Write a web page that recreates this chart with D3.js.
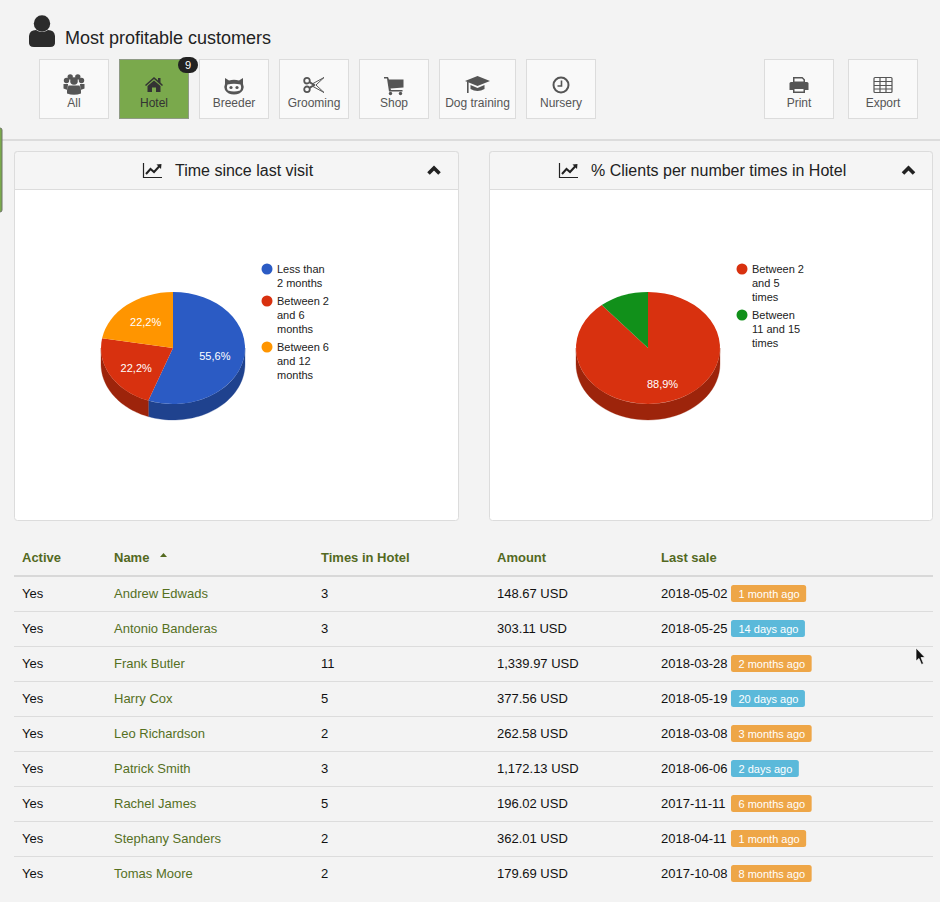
<!DOCTYPE html>
<html>
<head>
<meta charset="utf-8">
<script src="https://cdnjs.cloudflare.com/ajax/libs/d3/7.8.5/d3.min.js"></script>
<style>
html, body { margin: 0; padding: 0; background: #f3f3f3; overflow: hidden; }
svg { display: block; }
text { font-family: "Liberation Sans", Arial, sans-serif; }
</style>
</head>
<body>
<svg id="page" width="940" height="902"></svg>
<script>
//data
var visit_labels = [["Less than", "2 months"], ["Between 2", "and 6", "months"], ["Between 6", "and 12", "months"]];
var visit_values = [5, 2, 2];
var visit_colors = ["#2b5bc4", "#d8310f", "#ff9500"];
var visit_texts = ["55,6%", "22,2%", "22,2%"];

var times_labels = [["Between 2", "and 5", "times"], ["Between", "11 and 15", "times"]];
var times_values = [8, 1];
var times_colors = ["#d8310f", "#11901a"];
var times_texts = ["88,9%", ""];

var columns = ["Active", "Name", "Times in Hotel", "Amount", "Last sale"];
var names = ["Andrew Edwads", "Antonio Banderas", "Frank Butler", "Harry Cox", "Leo Richardson", "Patrick Smith", "Rachel James", "Stephany Sanders", "Tomas Moore"];
var active = ["Yes", "Yes", "Yes", "Yes", "Yes", "Yes", "Yes", "Yes", "Yes"];
var times = [3, 3, 11, 5, 2, 3, 5, 2, 2];
var amounts = ["148.67 USD", "303.11 USD", "1,339.97 USD", "377.56 USD", "262.58 USD", "1,172.13 USD", "196.02 USD", "362.01 USD", "179.69 USD"];
var dates = ["2018-05-02", "2018-05-25", "2018-03-28", "2018-05-19", "2018-03-08", "2018-06-06", "2017-11-11", "2018-04-11", "2017-10-08"];
var ago = ["1 month ago", "14 days ago", "2 months ago", "20 days ago", "3 months ago", "2 days ago", "6 months ago", "1 month ago", "8 months ago"];

var buttons = ["All", "Hotel", "Breeder", "Grooming", "Shop", "Dog training", "Nursery", "Print", "Export"];
var button_x = [39, 119, 199, 279, 359, 439, 526, 764, 848];
var button_w = [70, 70, 70, 70, 70, 77, 70, 70, 70];
var iconDrawers = [iconAll, iconHome, iconCat, iconScissors, iconCart, iconCap, iconClock, iconPrint, iconTable];

//configurations
var pie_rx = 72;
var pie_ry = 56;
var pie_depth = 16;

var svg = d3.select("#page");

// header
drawPerson(svg.append("g").attr("transform", "translate(42,31)"));
svg.append("text").attr("x", 65).attr("y", 44).attr("font-size", 18).attr("fill", "#222").text("Most profitable customers");

buttons.forEach(function (b, i) {
    var selected = b == "Hotel";
    var x = button_x[i];
    var w = button_w[i];
    svg.append("rect").attr("x", x + 0.5).attr("y", 59.5).attr("width", w - 1).attr("height", 59)
        .attr("fill", selected ? "#7aa94c" : "#f9f9f9").attr("stroke", selected ? "#8f9a85" : "#dcdcdc");
    svg.append("text").attr("x", x + w / 2).attr("y", 107).attr("text-anchor", "middle")
        .attr("font-size", 12).attr("fill", selected ? "#333" : "#555").text(b);
    var icon = svg.append("g").attr("transform", `translate(${x + w / 2},85)`)
        .attr("fill", selected ? "#333" : "#555").attr("stroke", "none");
    iconDrawers[i](icon, selected ? "#333" : "#555");
});

// badge on hotel
svg.append("rect").attr("x", 178).attr("y", 57).attr("width", 20).attr("height", 16).attr("rx", 8).attr("fill", "#222");
svg.append("text").attr("x", 188).attr("y", 69).attr("text-anchor", "middle").attr("font-size", 11).attr("fill", "#fff").text("9");

// separator + sliver on the left edge
svg.append("rect").attr("x", 0).attr("y", 139).attr("width", 940).attr("height", 2).attr("fill", "#dcdcdc");
svg.append("rect").attr("x", -3).attr("y", 128).attr("width", 5).attr("height", 84).attr("rx", 2).attr("fill", "#7aa94c").attr("stroke", "#6f7568");

// panels
drawPanel(14.5, 445, "Time since last visit", 143, 175, 434);
drawPanel(489.5, 444, "% Clients per number times in Hotel", 559, 591, 908.5);

drawPie(173, 348, visit_values, visit_colors, visit_texts);
drawLegend(267, visit_labels, visit_colors);
drawPie(648, 348, times_values, times_colors, times_texts);
drawLegend(742, times_labels, times_colors);

// table
var colX = d3.scaleOrdinal().domain(columns).range([22, 114, 321, 497, 661]);
var rowY = d3.scaleLinear().domain([0, 1]).range([593, 628]);

columns.forEach(function (c) {
    svg.append("text").attr("x", colX(c)).attr("y", 562).attr("font-size", 13).attr("font-weight", "bold")
        .attr("fill", "#53691f").text(c);
});
svg.append("path").attr("d", "M160 557 L163.5 553 L167 557 Z").attr("fill", "#53691f");
svg.append("rect").attr("x", 14).attr("y", 575).attr("width", 919).attr("height", 2).attr("fill", "#d8d8d8");

var rows = svg.selectAll("g.row").data(d3.range(names.length)).enter().append("g").attr("class", "row");

rows.filter(i => i < names.length - 1).append("rect").attr("x", 14).attr("width", 919).attr("height", 1)
    .attr("y", i => rowY(i) + 18).attr("fill", "#dcdcdc");

function cell(col, fn, color) {
    rows.append("text").attr("x", colX(col)).attr("y", i => rowY(i) + 4.5).attr("font-size", 13)
        .attr("fill", color).text(fn);
}
cell("Active", i => active[i], "#111");
cell("Name", i => names[i], "#55701f");
cell("Times in Hotel", i => times[i], "#111");
cell("Amount", i => amounts[i], "#111");
cell("Last sale", i => dates[i], "#111");

rows.each(function (i) {
    var g = d3.select(this);
    var label = g.append("text").attr("x", 738.5).attr("y", rowY(i) + 5).attr("font-size", 11).attr("fill", "#fff").text(ago[i]);
    var w = label.node().getComputedTextLength() + 14;
    g.insert("rect", "text:last-child").attr("x", 731).attr("y", rowY(i) - 8).attr("width", w).attr("height", 17).attr("rx", 2.5)
        .attr("fill", ago[i].indexOf("days") >= 0 ? "#5bb9da" : "#eea647");
});

// mouse pointer
svg.append("path").attr("d", "M916 648 L916 661 L919 658.5 L921.5 664.5 L923.5 663.5 L921 657.5 L925 657.5 Z")
    .attr("fill", "#111").attr("stroke", "#fff").attr("stroke-width", 0.7);


function drawPanel(x, w, title, iconX, titleX, chevronX) {
    svg.append("rect").attr("x", x).attr("y", 151.5).attr("width", w - 1).attr("height", 369).attr("rx", 3)
        .attr("fill", "#fff").attr("stroke", "#dcdcdc");
    svg.append("path").attr("d", `M${x} 189.5 L${x} 154.5 Q${x} 151.5 ${x + 3} 151.5 L${x + w - 4} 151.5 Q${x + w - 1} 151.5 ${x + w - 1} 154.5 L${x + w - 1} 189.5 Z`)
        .attr("fill", "#f5f5f5").attr("stroke", "#dcdcdc");
    svg.append("text").attr("x", titleX).attr("y", 176).attr("font-size", 16).attr("fill", "#222").text(title);
    // line chart icon
    var ic = svg.append("g").attr("transform", `translate(${iconX},163)`).attr("fill", "none").attr("stroke", "#222");
    ic.append("path").attr("d", "M0.5 0 L0.5 14.5 L19 14.5").attr("stroke-width", 1.2);
    ic.append("path").attr("d", "M3 11 L7.5 6 L11 9 L17 2.5").attr("stroke-width", 2);
    ic.append("path").attr("d", "M13.5 1.5 L18.5 1 L18 6 Z").attr("fill", "#222").attr("stroke", "none");
    // collapse chevron
    svg.append("path").attr("d", `M${chevronX - 5.5} 173.5 L${chevronX} 168 L${chevronX + 5.5} 173.5`)
        .attr("fill", "none").attr("stroke", "#222").attr("stroke-width", 3.6);
}

function drawPie(cx, cy, values, colors, texts) {
    var arcs = d3.pie().sort(null)(values);
    var g = svg.append("g");
    var arc = d3.arc().innerRadius(0).outerRadius(pie_rx);
    var sy = pie_ry / pie_rx;
    var px = a => cx + pie_rx * Math.sin(a);
    var py = a => cy - pie_ry * Math.cos(a);

    // side wall, only the front half is visible
    arcs.forEach(function (d, i) {
        var a0 = Math.max(d.startAngle, Math.PI / 2);
        var a1 = Math.min(d.endAngle, Math.PI * 1.5);
        if (a1 <= a0) return;
        var steps = d3.range(0, 41).map(k => a0 + (a1 - a0) * k / 40);
        var top = steps.map(a => [px(a), py(a)]);
        var bottom = steps.slice().reverse().map(a => [px(a), py(a) + pie_depth]);
        g.append("path").attr("d", d3.line()(top.concat(bottom)) + "Z")
            .attr("fill", d3.color(colors[i]).darker(0.9)).attr("stroke", d3.color(colors[i]).darker(0.9)).attr("stroke-width", 0.3);
    });

    // top face
    g.selectAll("path.slice").data(arcs).enter().append("path").attr("class", "slice")
        .attr("transform", `translate(${cx},${cy}) scale(1,${sy})`)
        .attr("d", arc).attr("fill", (d, i) => colors[i]);

    arcs.forEach(function (d, i) {
        if (!texts[i]) return;
        var mid = (d.startAngle + d.endAngle) / 2;
        g.append("text").attr("x", cx + 0.59 * pie_rx * Math.sin(mid)).attr("y", cy - 0.65 * pie_ry * Math.cos(mid) + 5.5)
            .attr("text-anchor", "middle").attr("font-size", 11).attr("fill", "#fff").text(texts[i]);
    });
}

function drawLegend(x, labels, colors) {
    var y = 269;
    labels.forEach(function (lines, i) {
        svg.append("circle").attr("cx", x).attr("cy", y).attr("r", 5.5).attr("fill", colors[i]);
        lines.forEach(function (l, k) {
            svg.append("text").attr("x", x + 10).attr("y", y + k * 14 + 4).attr("font-size", 11).attr("fill", "#222").text(l);
        });
        y += lines.length * 14 + 4;
    });
}

// icons, drawn around the button centre
function drawPerson(g) {
    g.attr("fill", "#2b2b2b");
    g.append("circle").attr("cy", -7.5).attr("r", 8.2);
    g.append("path").attr("d", "M-13 11 Q-13.5 16 -8 16 L8 16 Q13.5 16 13 11 L13 5 Q12.5 -1 6 -1 Q0 3 -6 -1 Q-12.5 -1 -13 5 Z");
}
function iconAll(g) {
    [[-7.5, -4.5], [7.5, -4.5], [-3.8, -8], [3.8, -8]].forEach(p => g.append("circle").attr("cx", p[0]).attr("cy", p[1]).attr("r", 2.7));
    g.append("circle").attr("cy", -4).attr("r", 3.8);
    g.append("path").attr("d", "M-10.5 -1 L-6 -1 L-6.5 5 L-10.5 3.5 Z M10.5 -1 L6 -1 L6.5 5 L10.5 3.5 Z");
    g.append("path").attr("d", "M-5.5 0.5 L5.5 0.5 Q7.5 5 7 8.5 Q0 11 -7 8.5 Q-7.5 5 -5.5 0.5 Z");
}
function iconHome(g) {
    g.append("path").attr("d", "M-9 0 L0 -8 L4 -4.5 L4 -7 L6.5 -7 L6.5 -2.5 L9 0 L8 1 L0 -6 L-8 1 Z");
    g.append("path").attr("d", "M-6.5 1 L0 -4.5 L6.5 1 L6.5 7 L2 7 L2 2.5 L-2 2.5 L-2 7 L-6.5 7 Z");
}
function iconCat(g) {
    g.append("path").attr("d", "M-9 -7 L-5 -4.5 Q0 -6 5 -4.5 L9 -7 L9 -1 Q10.5 2 9 5 Q6 9.5 0 9.5 Q-6 9.5 -9 5 Q-10.5 2 -9 -1 Z");
    g.append("path").attr("d", "M-6.5 -0.5 Q0 -2 6.5 -0.5 Q8 3 6 5.5 Q0 7.5 -6 5.5 Q-8 3 -6.5 -0.5 Z").attr("fill", "#f9f9f9");
    g.append("circle").attr("cx", -3).attr("cy", 2.5).attr("r", 1.6);
    g.append("circle").attr("cx", 3).attr("cy", 2.5).attr("r", 1.6);
}
function iconScissors(g, c) {
    g.attr("fill", "none").attr("stroke", c).attr("stroke-width", 1.8);
    g.append("circle").attr("cx", -7).attr("cy", -4.3).attr("r", 2.8);
    g.append("circle").attr("cx", -7).attr("cy", 4.3).attr("r", 2.8);
    g.append("path").attr("d", "M-4.5 -2.8 L1 0.5 M-4.5 2.8 L1 -0.5").attr("stroke-width", 2);
    g.append("path").attr("d", "M-1 -1.5 L10 -7.5 M2 0 L10 -7.5 M-1 1.5 L10 7.5 M2 0 L10 7.5").attr("stroke-width", 1);
}
function iconCart(g) {
    g.append("path").attr("d", "M-10 -8 L-6 -8 L-5 -5.5 L9.5 -5.5 L9.5 2.5 L-3.5 3.5 L-3 5 L8.5 5 L8.5 6.5 L-5 6.5 L-7 -6.5 L-10 -6.5 Z");
    g.append("circle").attr("cx", -3.5).attr("cy", 8.5).attr("r", 1.7);
    g.append("circle").attr("cx", 6.5).attr("cy", 8.5).attr("r", 1.7);
}
function iconCap(g) {
    g.append("path").attr("d", "M-12.5 -4 L0 -9 L12.5 -4 L0 1 Z");
    g.append("path").attr("d", "M-7 0 L0 3 L7 0 L7 4 Q0 8 -7 4 Z");
    g.append("rect").attr("x", -10.5).attr("y", -3).attr("width", 1.6).attr("height", 11);
}
function iconClock(g, c) {
    g.attr("fill", "none").attr("stroke", c);
    g.append("circle").attr("cy", 0).attr("r", 7.5).attr("stroke-width", 2);
    g.append("path").attr("d", "M0.5 -4.5 L0.5 1 L-3.5 1").attr("stroke-width", 1.6);
}
function iconPrint(g) {
    g.append("path").attr("d", "M-9.5 -1.5 Q-9.5 -3 -8 -3 L8 -3 Q9.5 -3 9.5 -1.5 L9.5 5 L-9.5 5 Z");
    g.append("path").attr("d", "M-6 -3 L-6 -8 L3.5 -8 L6 -5.5 L6 -3 Z M-6 2.5 L6 2.5 L6 8 L-6 8 Z");
    g.append("path").attr("d", "M-4.5 -3.5 L-4.5 -6.5 L3 -6.5 L4.5 -5 L4.5 -3.5 Z M-4.5 4 L4.5 4 L4.5 6.5 L-4.5 6.5 Z").attr("fill", "#f9f9f9");
}
function iconTable(g, c) {
    g.attr("fill", "none").attr("stroke", c).attr("stroke-width", 1.2);
    g.append("rect").attr("x", -9).attr("y", -7.5).attr("width", 18).attr("height", 15).attr("rx", 1);
    g.append("path").attr("d", "M-9 -3.5 L9 -3.5 M-9 0.5 L9 0.5 M-9 4 L9 4 M-3 -7.5 L-3 7.5 M3 -7.5 L3 7.5");
}
</script>
</body>
</html>
